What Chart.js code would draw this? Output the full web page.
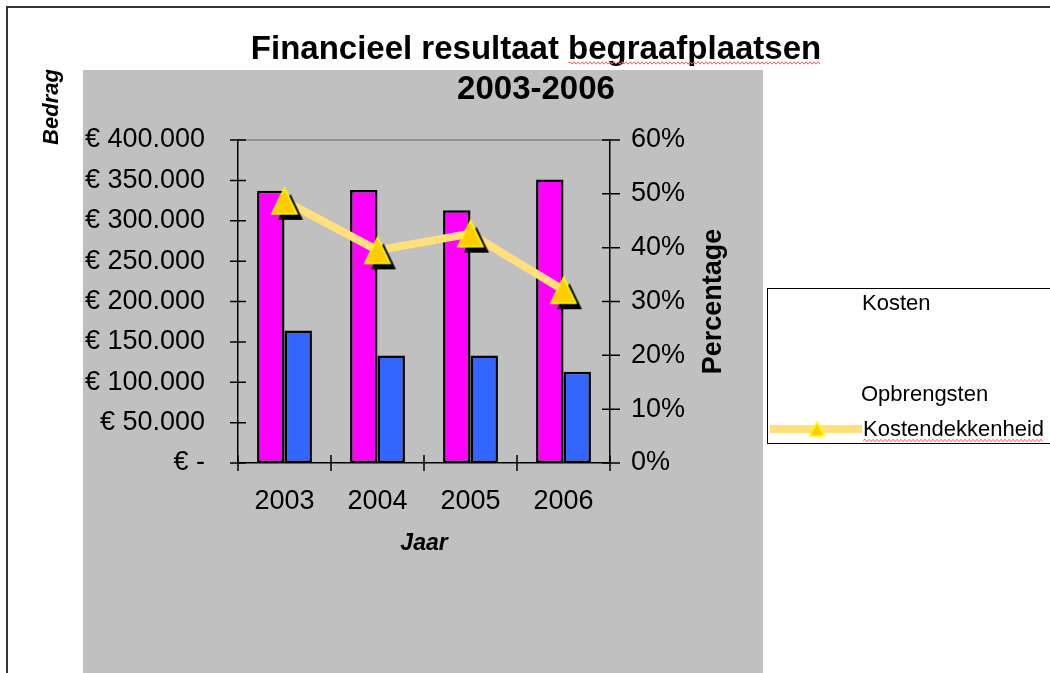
<!DOCTYPE html>
<html><head><meta charset="utf-8">
<script src="https://cdn.jsdelivr.net/npm/chart.js@4.4.0/dist/chart.umd.min.js"></script>
<style>html,body{margin:0;padding:0;background:#fff;overflow:hidden}</style>
</head><body>
<canvas id="c" width="1050" height="673" style="display:block;width:1050px;height:673px"></canvas>
<script>
// ---- data ----
const categories = ['2003', '2004', '2005', '2006'];
const kosten = [337000, 338000, 313000, 351000];
const opbrengsten = [164000, 133000, 133000, 113000];
const kostendekkenheid = [48.7, 39.5, 42.6, 32.1];
const seriesLabels = ['Kosten', 'Opbrengsten', 'Kostendekkenheid'];
const bedragMin = 0, bedragMax = 400000, bedragStep = 50000;
const pctMin = 0, pctMax = 60, pctStep = 10;
const titleLines = ['Financieel resultaat begraafplaatsen', '2003-2006'];
const xTitle = 'Jaar', yTitle = 'Bedrag', y1Title = 'Percentage';

// ---- styles ----
const FONT = "'Liberation Sans', Arial, sans-serif";
const PINK = '#ff00ff', BLUE = '#3366ff', LINE = '#ffe07c', GOLD = '#ffcc00', YEL = '#ffff00';

function makeTriangle(w, h, shadow) {
  const c = document.createElement('canvas');
  const size = Math.ceil(Math.max(w, h) + 2 * (shadow ? 8 : 2)) + (shadow ? 8 : 0);
  c.width = size; c.height = size;
  const g = c.getContext('2d');
  const cx = size / 2, cy = size / 2;
  function tri(ox, oy) {
    g.beginPath();
    g.moveTo(cx + ox, cy - h / 2 + oy);
    g.lineTo(cx + w / 2 + ox, cy + h / 2 + oy);
    g.lineTo(cx - w / 2 + ox, cy + h / 2 + oy);
    g.closePath();
  }
  if (shadow) { tri(6, 6); g.fillStyle = '#000'; g.fill(); }
  tri(0, 0); g.fillStyle = GOLD; g.fill();
  g.strokeStyle = YEL; g.lineWidth = 1.6; g.stroke();
  return c;
}
const bigTri = makeTriangle(25, 26, true);

function wavy(ctx, x1, x2, y) {
  ctx.save();
  ctx.strokeStyle = '#ff5a5a'; ctx.lineWidth = 1;
  ctx.beginPath();
  let up = true;
  ctx.moveTo(x1, y);
  for (let x = x1 + 2; x <= x2; x += 2) { ctx.lineTo(x, up ? y - 1.2 : y + 1.2); up = !up; }
  ctx.stroke();
  ctx.restore();
}

const decor = {
  id: 'decor',
  beforeDraw(chart) {
    const ctx = chart.ctx, a = chart.chartArea;
    ctx.save();
    ctx.fillStyle = '#fff'; ctx.fillRect(0, 0, 1050, 673);
    ctx.fillStyle = '#c0c0c0'; ctx.fillRect(83, 70, 680, 603);
    ctx.strokeStyle = '#333'; ctx.lineWidth = 2;
    ctx.beginPath(); ctx.moveTo(7, 673); ctx.lineTo(7, 7); ctx.lineTo(1050, 7); ctx.stroke();
    ctx.strokeStyle = '#808080'; ctx.lineWidth = 1.5;
    ctx.beginPath(); ctx.moveTo(a.left, a.top); ctx.lineTo(a.right, a.top); ctx.stroke();
    ctx.restore();
  },
  beforeDatasetsDraw(chart) {
    const ctx = chart.ctx, a = chart.chartArea;
    const ys = chart.scales.y, y1 = chart.scales.y1, xs = chart.scales.x;
    ctx.save();
    ctx.strokeStyle = '#000'; ctx.lineWidth = 1.5;
    ctx.beginPath();
    ys.ticks.forEach(t => { const y = ys.getPixelForValue(t.value); ctx.moveTo(a.left - 8, y); ctx.lineTo(a.left + 8, y); });
    y1.ticks.forEach(t => { const y = y1.getPixelForValue(t.value); ctx.moveTo(a.right - 8, y); ctx.lineTo(a.right + 10, y); });
    const half = (xs.getPixelForValue(1) - xs.getPixelForValue(0)) / 2;
    for (let i = 0; i <= categories.length; i++) {
      const x = xs.getPixelForValue(Math.min(i, categories.length - 1)) + (i < categories.length ? -half : half);
      ctx.moveTo(x, a.bottom - 8); ctx.lineTo(x, a.bottom + 8);
    }
    ctx.stroke();
    ctx.restore();
  },
  afterDraw(chart) {
    const ctx = chart.ctx;
    ctx.save();
    ctx.fillStyle = '#000';
    // title
    ctx.font = 'bold 33px ' + FONT;
    ctx.textAlign = 'center'; ctx.textBaseline = 'alphabetic';
    ctx.fillText(titleLines[0], 536, 58.5);
    ctx.fillText(titleLines[1], 536, 98.5);
    const tw = ctx.measureText(titleLines[0]).width;
    const wstart = 536 - tw / 2 + ctx.measureText('Financieel resultaat ').width;
    wavy(ctx, wstart, 536 + tw / 2, 63);
    // rotated axis titles
    ctx.save();
    ctx.font = 'italic bold 22px ' + FONT;
    ctx.translate(58, 107); ctx.rotate(-Math.PI / 2);
    ctx.textAlign = 'center'; ctx.fillText(yTitle, 0, 0);
    ctx.restore();
    ctx.save();
    ctx.font = 'bold 27px ' + FONT;
    ctx.translate(721, 301.5); ctx.rotate(-Math.PI / 2);
    ctx.textAlign = 'center'; ctx.fillText(y1Title, 0, 0);
    ctx.restore();
    // legend
    ctx.fillStyle = '#fff'; ctx.fillRect(767, 288, 300, 155);
    ctx.strokeStyle = '#000'; ctx.lineWidth = 1;
    ctx.strokeRect(767.5, 288.5, 300, 155);
    ctx.fillStyle = '#000';
    ctx.font = '22px ' + FONT; ctx.textAlign = 'left';
    const ds = chart.data.datasets;
    ctx.fillText(ds[0].label, 862, 310);
    ctx.fillText(ds[1].label, 861, 401);
    ctx.fillText(ds[2].label, 863, 436);
    const lw = ctx.measureText(ds[2].label).width;
    wavy(ctx, 863, 863 + lw, 440.5);
    ctx.strokeStyle = LINE; ctx.lineWidth = 8;
    ctx.beginPath(); ctx.moveTo(770, 429); ctx.lineTo(862, 429); ctx.stroke();
    const st = makeTriangle(15, 14, false);
    ctx.drawImage(st, 817 - st.width / 2, 429 - st.height / 2);
    ctx.restore();
  }
};

Chart.defaults.font.family = FONT;
Chart.defaults.color = '#000';

new Chart(document.getElementById('c'), {
  data: {
    labels: categories,
    datasets: [
      { type: 'bar', label: seriesLabels[0], data: kosten, yAxisID: 'y', backgroundColor: PINK,
        borderColor: '#000', borderWidth: 2.5, borderSkipped: false, order: 1,
        categoryPercentage: 0.59, barPercentage: 1.0 },
      { type: 'bar', label: seriesLabels[1], data: opbrengsten, yAxisID: 'y', backgroundColor: BLUE,
        borderColor: '#000', borderWidth: 2.5, borderSkipped: false, order: 1,
        categoryPercentage: 0.59, barPercentage: 1.0 },
      { type: 'line', label: seriesLabels[2], data: kostendekkenheid, yAxisID: 'y1',
        borderColor: LINE, borderWidth: 8, tension: 0, fill: false, order: 0,
        pointStyle: bigTri, pointRadius: 13, pointHoverRadius: 13 }
    ]
  },
  options: {
    responsive: false, animation: false, devicePixelRatio: 1,
    layout: { padding: { left: 0, right: 0, top: 140, bottom: 0 } },
    plugins: { legend: { display: false }, title: { display: false }, tooltip: { enabled: false } },
    scales: {
      x: {
        type: 'category', offset: true,
        grid: { display: false, drawTicks: false },
        border: { display: true, color: '#000', width: 1.5 },
        ticks: { font: { size: 27 }, padding: 22, color: '#000', maxRotation: 0 },
        title: { display: true, text: xTitle, font: { size: 23, weight: 'bold', style: 'italic' }, color: '#000', padding: { top: 0, bottom: 116 } },
        afterFit: s => { s.height = 210; }
      },
      y: {
        type: 'linear', position: 'left', min: bedragMin, max: bedragMax,
        grid: { display: false, drawTicks: false },
        border: { display: true, color: '#000', width: 1.5 },
        ticks: { stepSize: bedragStep, font: { size: 27 }, padding: 33, color: '#000',
          callback: v => v === 0 ? '€ -' : '€ ' + (v / 1000) + '.000' },
        afterFit: s => { s.width = 238; }
      },
      y1: {
        type: 'linear', position: 'right', min: pctMin, max: pctMax,
        grid: { display: false, drawTicks: false },
        border: { display: true, color: '#000', width: 1.5 },
        ticks: { stepSize: pctStep, font: { size: 27 }, padding: 21, color: '#000',
          callback: v => v + '%' },
        afterFit: s => { s.width = 440; }
      }
    }
  },
  plugins: [decor]
});
</script>
</body></html>
